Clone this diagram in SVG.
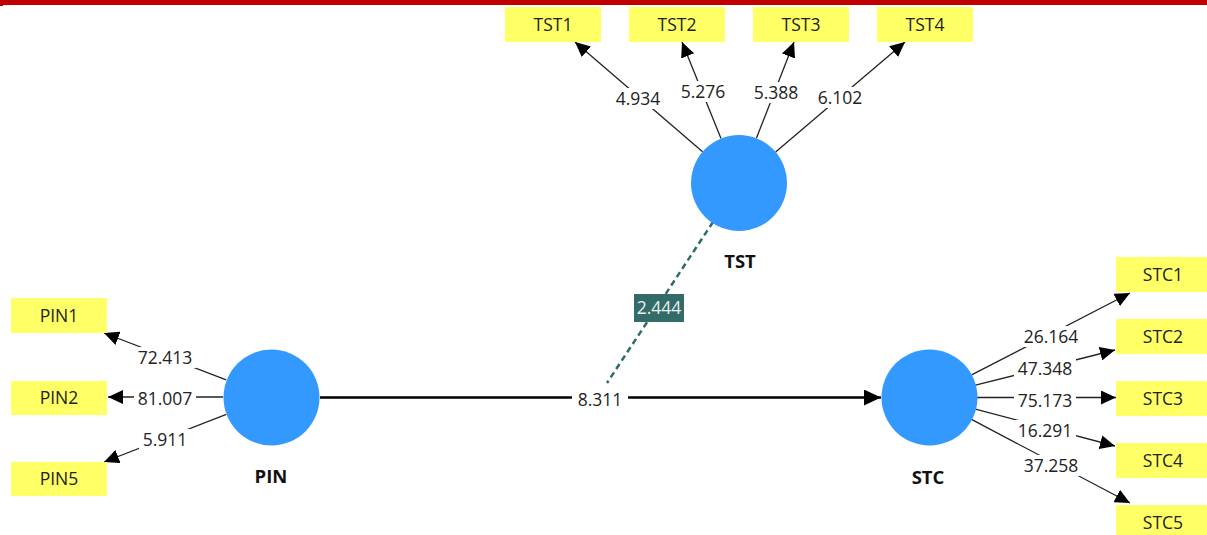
<svg xmlns="http://www.w3.org/2000/svg" width="1207" height="535" viewBox="0 0 1207 535">
<style>
.ind{fill:#ffff66}
.it{font-family:"Open Sans","Noto Sans",sans-serif;font-size:17.5px;fill:#222;text-anchor:middle}
.lv{fill:#3399ff}
.lt{font-family:"Open Sans","Noto Sans",sans-serif;font-size:18.5px;font-weight:bold;fill:#111;text-anchor:middle}
.ln{stroke:#222;stroke-width:1.3;fill:none;marker-end:url(#ah)}
.num{font-family:"Open Sans","Noto Sans",sans-serif;font-size:17.5px;fill:#222;text-anchor:middle}
.bg{fill:#fff}
</style>
<defs>
<marker id="ah" markerUnits="userSpaceOnUse" markerWidth="16" markerHeight="14" refX="15" refY="7" orient="auto">
<path d="M0,0 L15,7 L0,14 Z" fill="#000"/>
</marker>
<marker id="ahb" markerUnits="userSpaceOnUse" markerWidth="18" markerHeight="16" refX="17" refY="8" orient="auto">
<path d="M0,0 L17,8 L0,16 Z" fill="#000"/>
</marker>
</defs>
<rect x="0" y="0" width="1207" height="5" fill="#c00000"/>
<rect x="0" y="0" width="3" height="6" fill="#c00000"/>
<g id="connectors">
<line class="ln" x1="226.2" y1="379.8" x2="104" y2="333"/>
<line class="ln" x1="223" y1="397" x2="108" y2="397"/>
<line class="ln" x1="226.3" y1="414.4" x2="104" y2="462"/>
<line class="ln" x1="702.6" y1="151.7" x2="575" y2="42"/>
<line class="ln" x1="721" y1="138.5" x2="682" y2="42"/>
<line class="ln" x1="756.4" y1="138.3" x2="794" y2="42"/>
<line class="ln" x1="775.6" y1="151.9" x2="905" y2="42"/>
<line class="ln" x1="971.6" y1="374.9" x2="1130" y2="293"/>
<line class="ln" x1="975.5" y1="385.2" x2="1115" y2="350"/>
<line class="ln" x1="977" y1="397.5" x2="1116" y2="397.5"/>
<line class="ln" x1="975.4" y1="409.2" x2="1115" y2="446"/>
<line class="ln" x1="971.5" y1="419.4" x2="1130" y2="503"/>
<line x1="320" y1="397.5" x2="881" y2="397.5" stroke="#000" stroke-width="2.5" marker-end="url(#ahb)"/>
<line x1="713" y1="222" x2="607" y2="383" stroke="#2f6b69" stroke-width="2.5" stroke-dasharray="6 4"/>
<rect class="bg" x="134" y="347" width="62" height="21"/>
<text class="num" x="165" y="364">72.413</text>
<rect class="bg" x="134" y="388" width="62" height="21"/>
<text class="num" x="165" y="405">81.007</text>
<rect class="bg" x="139" y="429" width="52" height="21"/>
<text class="num" x="165" y="446">5.911</text>
<rect class="bg" x="612" y="88" width="52" height="21"/>
<text class="num" x="638" y="105">4.934</text>
<rect class="bg" x="677" y="81" width="52" height="21"/>
<text class="num" x="703" y="98">5.276</text>
<rect class="bg" x="750" y="82" width="52" height="21"/>
<text class="num" x="776" y="99">5.388</text>
<rect class="bg" x="814" y="87" width="52" height="21"/>
<text class="num" x="840" y="104">6.102</text>
<rect class="bg" x="1020" y="326" width="62" height="21"/>
<text class="num" x="1051" y="343">26.164</text>
<rect class="bg" x="1014" y="358" width="62" height="21"/>
<text class="num" x="1045" y="375">47.348</text>
<rect class="bg" x="1014" y="390" width="62" height="21"/>
<text class="num" x="1045" y="407">75.173</text>
<rect class="bg" x="1014" y="420" width="62" height="21"/>
<text class="num" x="1045" y="437">16.291</text>
<rect class="bg" x="1020" y="455" width="62" height="21"/>
<text class="num" x="1051" y="472">37.258</text>
<rect class="bg" x="572" y="389" width="56" height="21"/>
<text class="num" x="600" y="406">8.311</text>
<rect x="634" y="294" width="50" height="28" fill="#336b69"/>
<text class="num" x="659" y="314" style="fill:#e8f0ef">2.444</text>
</g>
<g id="TST">
<circle class="lv" cx="739" cy="183" r="48"/>
<text class="lt" x="740" y="268">TST</text>
</g>
<g id="PIN">
<circle class="lv" cx="271.5" cy="397.5" r="48"/>
<text class="lt" x="271" y="483">PIN</text>
</g>
<g id="STC">
<circle class="lv" cx="929.5" cy="397.5" r="48"/>
<text class="lt" x="928" y="484">STC</text>
</g>
<g id="TST1"><rect class="ind" x="505" y="7" width="96" height="35"/><text class="it" x="553" y="31">TST1</text></g>
<g id="TST2"><rect class="ind" x="629" y="7" width="96" height="35"/><text class="it" x="677" y="31">TST2</text></g>
<g id="TST3"><rect class="ind" x="753" y="7" width="96" height="35"/><text class="it" x="801" y="31">TST3</text></g>
<g id="TST4"><rect class="ind" x="877" y="7" width="96" height="35"/><text class="it" x="925" y="31">TST4</text></g>
<g id="PIN1"><rect class="ind" x="11" y="298" width="96" height="35"/><text class="it" x="59" y="322">PIN1</text></g>
<g id="PIN2"><rect class="ind" x="11" y="381" width="96" height="34"/><text class="it" x="59" y="404">PIN2</text></g>
<g id="PIN5"><rect class="ind" x="11" y="462" width="96" height="34"/><text class="it" x="59" y="485">PIN5</text></g>
<g id="STC1"><rect class="ind" x="1116" y="257" width="96" height="35"/><text class="it" x="1163" y="281">STC1</text></g>
<g id="STC2"><rect class="ind" x="1116" y="319" width="96" height="35"/><text class="it" x="1163" y="343">STC2</text></g>
<g id="STC3"><rect class="ind" x="1116" y="381" width="96" height="35"/><text class="it" x="1163" y="405">STC3</text></g>
<g id="STC4"><rect class="ind" x="1116" y="443" width="96" height="35"/><text class="it" x="1163" y="467">STC4</text></g>
<g id="STC5"><rect class="ind" x="1116" y="505" width="96" height="35"/><text class="it" x="1163" y="529">STC5</text></g>
</svg>
